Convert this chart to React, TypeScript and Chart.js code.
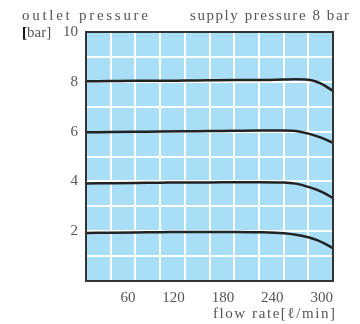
import React, { useEffect, useRef } from "react";
import { Chart, registerables } from "chart.js";

Chart.register(...registerables);

const flowRates = [0, 30, 60, 90, 120, 150, 180, 210, 240, 255, 270, 280, 290, 300];
const outlet8 = [8.02, 8.03, 8.04, 8.04, 8.05, 8.06, 8.07, 8.07, 8.09, 8.1, 8.08, 8.0, 7.85, 7.63];
const outlet6 = [5.97, 5.98, 5.99, 6.0, 6.01, 6.02, 6.03, 6.04, 6.04, 6.02, 5.92, 5.82, 5.7, 5.55];
const outlet4 = [3.92, 3.93, 3.94, 3.95, 3.96, 3.96, 3.97, 3.97, 3.96, 3.91, 3.78, 3.67, 3.52, 3.33];
const outlet2 = [1.93, 1.94, 1.95, 1.96, 1.97, 1.97, 1.97, 1.96, 1.92, 1.86, 1.76, 1.65, 1.5, 1.32];
const seriesList = [outlet8, outlet6, outlet4, outlet2];

const xTickLabels = [60, 120, 180, 240, 300];
const yTickLabels = [2, 4, 6, 8, 10];

const titleLeft = "outlet pressure";
const titleRight = "supply pressure 8 bar";
const unitY = "[bar]";
const xAxisTitle = "flow rate[ℓ/min]";

const TEXT = "#555555";
const FONT = '15px "Liberation Serif"';

function fitText(ctx: any, text: string, left: number, width: number, y: number) {
  ctx.letterSpacing = "0px";
  const natural = ctx.measureText(text).width;
  const ls = Math.max(0, (width - natural) / Math.max(1, text.length - 1));
  ctx.letterSpacing = ls.toFixed(2) + "px";
  ctx.textAlign = "left";
  ctx.fillText(text, left, y);
  ctx.letterSpacing = "0px";
}

const decorPlugin = {
  id: "decor",
  beforeDraw(chart: any) {
    const { ctx, chartArea: a } = chart;
    ctx.save();
    ctx.fillStyle = "#a9def7";
    ctx.fillRect(a.left, a.top, a.right - a.left, a.bottom - a.top);
    ctx.restore();
  },
  afterDraw(chart: any) {
    const { ctx, chartArea: a } = chart;
    ctx.save();
    ctx.strokeStyle = "#333333";
    ctx.lineWidth = 2;
    ctx.strokeRect(a.left, a.top, a.right - a.left, a.bottom - a.top);

    ctx.fillStyle = TEXT;
    ctx.textBaseline = "middle";
    ctx.font = FONT;
    fitText(ctx, titleLeft, 22, 126, 16);
    fitText(ctx, titleRight, 190, 159, 16);
    fitText(ctx, xAxisTitle, 213, 122, 314);

    ctx.font = FONT;
    ctx.textAlign = "left";
    ctx.fillText(unitY, 22, a.top + 1);
    ctx.fillStyle = "#111111";
    ctx.font = 'bold 15px "Liberation Serif"';
    ctx.fillText("[", 22, a.top + 1);
    ctx.restore();
  },
};

export default function App() {
  const ref = useRef<HTMLCanvasElement>(null);

  useEffect(() => {
    document.body.style.margin = "0";
    const canvas = ref.current;
    if (!canvas) return;
    const chart = new Chart(canvas, {
      type: "line",
      data: {
        datasets: seriesList.map((s) => ({
          data: flowRates.map((x, i) => ({ x, y: s[i] })),
          borderColor: "#222222",
          borderWidth: 2.5,
          pointRadius: 0,
          cubicInterpolationMode: "monotone" as const,
          fill: false,
        })),
      },
      options: {
        responsive: false,
        animation: false,
        layout: { padding: { top: 32, right: 27, left: 0, bottom: 0 } },
        plugins: {
          legend: { display: false },
          tooltip: { enabled: false },
        },
        scales: {
          x: {
            type: "linear",
            min: 0,
            max: 300,
            afterFit: (scale: any) => {
              scale.height = 43;
            },
            grid: { color: "#ffffff", lineWidth: 2, drawTicks: false },
            border: { display: false },
            ticks: {
              stepSize: 30,
              autoSkip: false,
              maxRotation: 0,
              align: "end",
              padding: 8,
              color: TEXT,
              font: { family: "Liberation Serif", size: 15 },
              callback: (v: any) => (xTickLabels.includes(Number(v)) ? String(v) : ""),
            },
          },
          y: {
            min: 0,
            max: 10,
            afterFit: (scale: any) => {
              scale.width = 86;
            },
            grid: { color: "#ffffff", lineWidth: 2, drawTicks: false },
            border: { display: false },
            ticks: {
              stepSize: 1,
              autoSkip: false,
              padding: 8,
              color: TEXT,
              font: { family: "Liberation Serif", size: 15 },
              callback: (v: any) => (yTickLabels.includes(Number(v)) ? String(v) : ""),
            },
          },
        },
      },
      plugins: [decorPlugin],
    });
    return () => chart.destroy();
  }, []);

  return (
    <div style={{ width: 360, height: 324 }}>
      <canvas ref={ref} width={360} height={324} />
    </div>
  );
}
